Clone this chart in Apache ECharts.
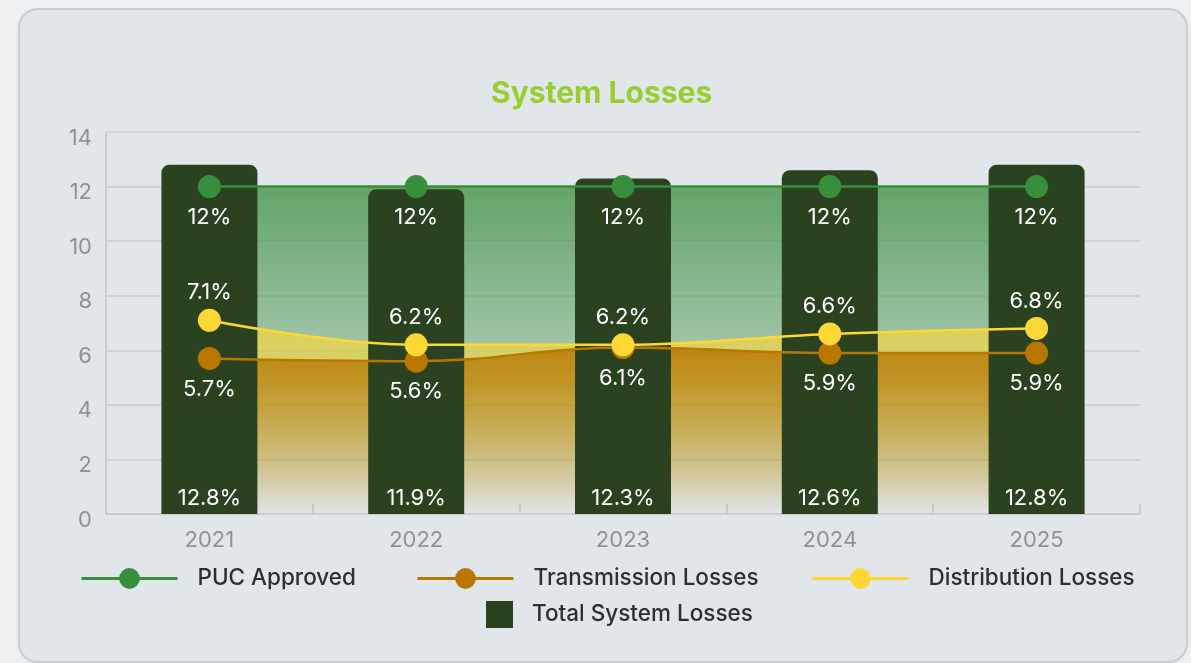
<!DOCTYPE html>
<html>
<head>
<meta charset="utf-8">
<script src="https://cdn.jsdelivr.net/npm/echarts@6/dist/echarts.min.js"></script>
<style>
  html, body { margin: 0; padding: 0; background: #eef0f1; width: 1191px; height: 663px; overflow: hidden; }
  .card {
    position: absolute; left: 18px; top: 8px; width: 1166px; height: 651px;
    background: #e1e6ea; border: 2px solid #c9cdd2; border-radius: 20px;
    box-shadow: 0 1px 4px rgba(0,0,0,0.06);
  }
  #chart { position: absolute; left: 0; top: 0; width: 1191px; height: 663px; }
</style>
</head>
<body>
<div class="card"></div>
<div id="chart"></div>
<script>
// Yearly system loss figures (percent)
const years = ['2021', '2022', '2023', '2024', '2025'];
const pucApproved = [12, 12, 12, 12, 12];
const transmissionLosses = [5.7, 5.6, 6.1, 5.9, 5.9];
const distributionLosses = [7.1, 6.2, 6.2, 6.6, 6.8];
const totalSystemLosses = [12.8, 11.9, 12.3, 12.6, 12.8];

const FONT = 'Inter, "Noto Sans", sans-serif';
const GREEN = '#388e3c';
const AMBER = '#b87800';
const YELLOW = '#fdd835';
const BAR = '#2b4220';

function fade(r, g, b, top) {
  return new echarts.graphic.LinearGradient(0, 0, 0, 1, [
    { offset: 0, color: `rgba(${r},${g},${b},${top})` },
    { offset: 1, color: `rgba(${r},${g},${b},0)` }
  ]);
}

const pctLabel = (pos) => ({
  show: true, position: pos, distance: pos === 'top' ? 5 : 8,
  color: '#ffffff', fontSize: 22, fontFamily: FONT,
  formatter: (p) => p.value + '%'
});

// Filled regions sit underneath the bars; the lines and points sit on top.
function areaSeries(name, data, fill) {
  return {
    name: name, type: 'line', data: data, smooth: 0.4, z: 1, silent: true,
    showSymbol: false, lineStyle: { width: 0 }, areaStyle: { color: fill, opacity: 1 },
    emphasis: { disabled: true }, tooltip: { show: false }
  };
}

function lineSeries(name, data, color, labelPos) {
  return {
    name: name, type: 'line', data: data, smooth: 0.4, z: 3,
    symbol: 'circle', symbolSize: 23,
    itemStyle: { color: color },
    lineStyle: { color: color, width: 2.5 },
    label: pctLabel(labelPos)
  };
}

const legendText = { color: '#2b3036', fontSize: 22.5, fontWeight: 500, fontFamily: FONT };

// One legend block per entry so each sits where it belongs in the two-row key.
function lineKey(name, left) {
  return {
    data: [name], left: left, top: 567, padding: 0,
    itemWidth: 96, itemHeight: 26,
    lineStyle: { width: 3 },
    textStyle: Object.assign({ padding: [0, 0, 0, 15] }, legendText)
  };
}

const chart = echarts.init(document.getElementById('chart'), null, { renderer: 'canvas' });
chart.setOption({
  animation: false,
  backgroundColor: 'transparent',
  title: {
    text: 'System Losses', left: 486, top: 74,
    textStyle: { color: '#9acd32', fontSize: 30, fontWeight: 'bold', fontFamily: FONT }
  },
  legend: [
    lineKey('PUC Approved', 80),
    lineKey('Transmission Losses', 416),
    lineKey('Distribution Losses', 811),
    {
      data: [{ name: 'Total System Losses', icon: 'rect' }],
      left: 486, top: 601, padding: 0, itemWidth: 27, itemHeight: 27,
      textStyle: Object.assign({ padding: [0, 0, 0, 14] }, legendText)
    }
  ],
  grid: { left: 106, right: 51, top: 132, bottom: 149 },
  xAxis: {
    type: 'category', data: years, boundaryGap: true,
    axisLine: { lineStyle: { color: '#c9cdd2', width: 2 } },
    axisTick: { show: true, inside: true, length: 10, lineStyle: { color: '#c9cdd2', width: 2 } },
    axisLabel: { color: '#8e9297', fontSize: 22, fontFamily: FONT, margin: 15 }
  },
  yAxis: {
    type: 'value', min: 0, max: 14, interval: 2,
    axisLine: { show: true, lineStyle: { color: '#c9cdd2', width: 2 } },
    axisTick: { show: false },
    splitLine: { lineStyle: { color: '#c9cdd2', width: 1.5 } },
    axisLabel: {
      color: '#8e9297', fontSize: 22, fontFamily: FONT, margin: 14,
      verticalAlign: 'top', lineHeight: 12
    }
  },
  series: [
    areaSeries('PUC Approved fill', pucApproved, fade(56, 142, 60, 0.75)),
    areaSeries('Distribution Losses fill', distributionLosses, fade(253, 216, 53, 0.7)),
    areaSeries('Transmission Losses fill', transmissionLosses, fade(184, 120, 0, 0.85)),
    {
      name: 'Total System Losses', type: 'bar', data: totalSystemLosses, z: 2,
      barWidth: 96,
      itemStyle: { color: BAR, borderRadius: [8, 8, 0, 0] },
      label: {
        show: true, position: 'insideBottom', distance: 5,
        color: '#ffffff', fontSize: 22, fontFamily: FONT,
        formatter: (p) => p.value + '%'
      }
    },
    lineSeries('PUC Approved', pucApproved, GREEN, 'bottom'),
    lineSeries('Transmission Losses', transmissionLosses, AMBER, 'bottom'),
    lineSeries('Distribution Losses', distributionLosses, YELLOW, 'top')
  ]
});
</script>
</body>
</html>
